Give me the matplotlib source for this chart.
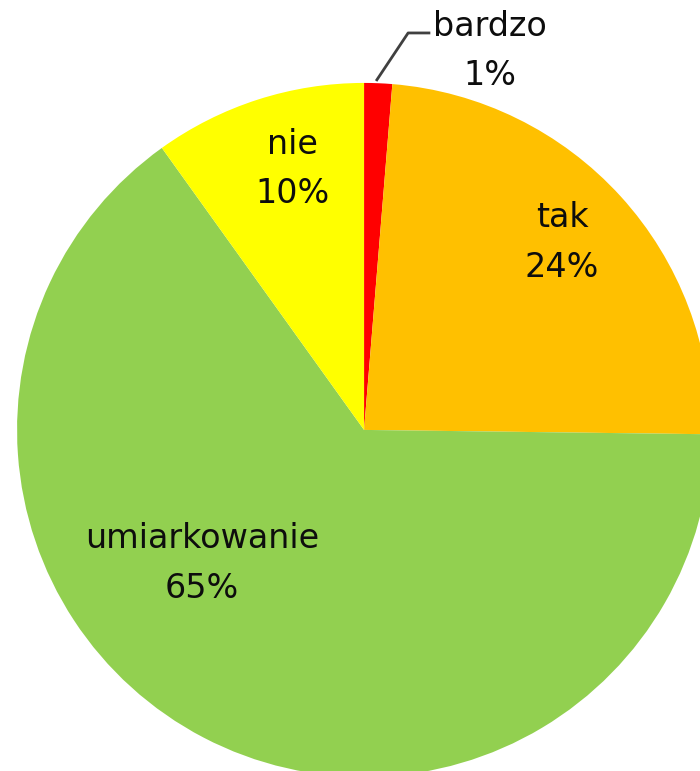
import matplotlib
matplotlib.use("Agg")
from matplotlib import pyplot as plt

labels = ['bardzo', 'tak', 'umiarkowanie', 'nie']
values = [1.3, 23.9, 64.9, 9.9]
shown = ['1%', '24%', '65%', '10%']
colors = ['#FF0000', '#FFC000', '#92D050', '#FFFF00']

fig = plt.figure(figsize=(7, 7.71), dpi=100)
ax = fig.add_axes([0, 0, 1, 1])
ax.pie(values, colors=colors, startangle=90, counterclock=False, radius=1.0,
       wedgeprops=dict(linewidth=0))
ax.set_xlim(-1.049, 0.968)
ax.set_ylim(-0.983, 1.239)
ax.set_aspect('equal')
ax.axis('off')

# label positions (data units, pie radius = 1)
pos = {'bardzo': (0.363, 1.092), 'tak': (0.571, 0.539),
       'umiarkowanie': (-0.467, -0.386), 'nie': (-0.207, 0.752)}
for lab, s in zip(labels, shown):
    x, y = pos[lab]
    ax.text(x, y, lab + '\n' + s, ha='center', va='center', fontsize=24,
            family='DejaVu Sans', linespacing=1.65, color='#0d0d0d')

# leader line for the small slice
ax.plot([0.037, 0.127, 0.187], [1.009, 1.144, 1.144], color='#404040', lw=2,
        clip_on=False)

fig.savefig('out.png', dpi=100)
